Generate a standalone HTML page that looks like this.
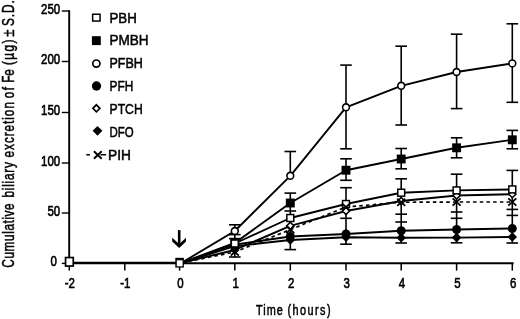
<!DOCTYPE html>
<html lang="en"><head><meta charset="utf-8"><title>Cumulative biliary excretion of Fe</title>
<style>html,body{margin:0;padding:0;background:#fff}body{width:520px;height:319px;overflow:hidden}svg text{white-space:pre}</style>
</head><body>
<svg width="520" height="319" viewBox="0 0 520 319" style="display:block">
<rect width="520" height="319" fill="#fff"/>
<path d="M69.2 10.3V263.2H513.6" fill="none" stroke="#000" stroke-width="1.9" stroke-linejoin="miter"/>
<line x1="61.8" x2="69.2" y1="11" y2="11" stroke="#000" stroke-width="1.4"/>
<line x1="61.8" x2="69.2" y1="61.5" y2="61.5" stroke="#000" stroke-width="1.4"/>
<line x1="61.8" x2="69.2" y1="112.5" y2="112.5" stroke="#000" stroke-width="1.4"/>
<line x1="61.8" x2="69.2" y1="163" y2="163" stroke="#000" stroke-width="1.4"/>
<line x1="61.8" x2="69.2" y1="213" y2="213" stroke="#000" stroke-width="1.4"/>
<line x1="61.8" x2="69.2" y1="263.4" y2="263.4" stroke="#000" stroke-width="1.4"/>
<line x1="69.3" x2="69.3" y1="263.2" y2="270.6" stroke="#000" stroke-width="1.5"/>
<line x1="124.8" x2="124.8" y1="263.2" y2="270.6" stroke="#000" stroke-width="1.5"/>
<line x1="179.6" x2="179.6" y1="263.2" y2="270.6" stroke="#000" stroke-width="1.5"/>
<line x1="234.8" x2="234.8" y1="263.2" y2="270.6" stroke="#000" stroke-width="1.5"/>
<line x1="290.3" x2="290.3" y1="263.2" y2="270.6" stroke="#000" stroke-width="1.5"/>
<line x1="346.0" x2="346.0" y1="263.2" y2="270.6" stroke="#000" stroke-width="1.5"/>
<line x1="401.2" x2="401.2" y1="263.2" y2="270.6" stroke="#000" stroke-width="1.5"/>
<line x1="456.6" x2="456.6" y1="263.2" y2="270.6" stroke="#000" stroke-width="1.5"/>
<line x1="512.3" x2="512.3" y1="263.2" y2="270.6" stroke="#000" stroke-width="1.5"/>
<line x1="69.3" x2="179.6" y1="262.8" y2="262.8" stroke="#000" stroke-width="2.0"/>
<path d="M181.6 262.8L234.8 231.0L290.3 175.8L346.0 107.3L401.2 85.8L456.6 72.0L512.3 63.4" fill="none" stroke="#000" stroke-width="1.9" stroke-linejoin="round"/>
<path d="M181.6 262.8L234.8 243.0L290.3 203.0L346.0 170.2L401.2 159.0L456.6 147.8L512.3 139.8" fill="none" stroke="#000" stroke-width="1.9" stroke-linejoin="round"/>
<path d="M181.6 262.8L234.8 243.5L290.3 218.0L346.0 204.0L401.2 192.7L456.6 190.4L512.3 189.4" fill="none" stroke="#000" stroke-width="1.9" stroke-linejoin="round"/>
<path d="M181.6 262.8L234.8 250.0L290.3 225.8L346.0 211.0L401.2 201.0L456.6 195.5L512.3 194.2" fill="none" stroke="#000" stroke-width="1.9" stroke-linejoin="round"/>
<path d="M181.6 262.8L234.8 244.6L290.3 236.5L346.0 234.0L401.2 230.8L456.6 229.5L512.3 228.5" fill="none" stroke="#000" stroke-width="1.9" stroke-linejoin="round"/>
<path d="M181.6 262.8L234.8 246.2L290.3 240.0L346.0 237.2L401.2 237.7L456.6 237.6L512.3 237.0" fill="none" stroke="#000" stroke-width="1.9" stroke-linejoin="round"/>
<path d="M181.6 262.8L234.8 252.0L290.3 229.6L346.0 207.0L401.2 202.3L456.6 202.0L512.3 202.0" fill="none" stroke="#000" stroke-width="1.7" stroke-dasharray="3.5 3.2"/>
<line x1="234.8" x2="234.8" y1="224.8" y2="257" stroke="#000" stroke-width="1.6"/>
<line x1="229.0" x2="240.60000000000002" y1="224.8" y2="224.8" stroke="#000" stroke-width="1.6"/>
<line x1="229.0" x2="240.60000000000002" y1="234.6" y2="234.6" stroke="#000" stroke-width="1.6"/>
<line x1="229.0" x2="240.60000000000002" y1="238.6" y2="238.6" stroke="#000" stroke-width="1.6"/>
<line x1="229.0" x2="240.60000000000002" y1="257" y2="257" stroke="#000" stroke-width="1.6"/>
<line x1="290.3" x2="290.3" y1="151.5" y2="175.8" stroke="#000" stroke-width="1.6"/>
<line x1="290.3" x2="290.3" y1="193.1" y2="249.6" stroke="#000" stroke-width="1.6"/>
<line x1="284.5" x2="296.1" y1="151.5" y2="151.5" stroke="#000" stroke-width="1.6"/>
<line x1="284.5" x2="296.1" y1="193.1" y2="193.1" stroke="#000" stroke-width="1.6"/>
<line x1="284.5" x2="296.1" y1="211" y2="211" stroke="#000" stroke-width="1.6"/>
<line x1="284.5" x2="296.1" y1="249.6" y2="249.6" stroke="#000" stroke-width="1.6"/>
<line x1="346.0" x2="346.0" y1="65.1" y2="148.8" stroke="#000" stroke-width="1.6"/>
<line x1="346.0" x2="346.0" y1="158.8" y2="180.3" stroke="#000" stroke-width="1.6"/>
<line x1="346.0" x2="346.0" y1="187.7" y2="244.2" stroke="#000" stroke-width="1.6"/>
<line x1="340.2" x2="351.8" y1="65.1" y2="65.1" stroke="#000" stroke-width="1.6"/>
<line x1="340.2" x2="351.8" y1="148.8" y2="148.8" stroke="#000" stroke-width="1.6"/>
<line x1="340.2" x2="351.8" y1="158.8" y2="158.8" stroke="#000" stroke-width="1.6"/>
<line x1="340.2" x2="351.8" y1="180.3" y2="180.3" stroke="#000" stroke-width="1.6"/>
<line x1="340.2" x2="351.8" y1="187.7" y2="187.7" stroke="#000" stroke-width="1.6"/>
<line x1="340.2" x2="351.8" y1="218.3" y2="218.3" stroke="#000" stroke-width="1.6"/>
<line x1="340.2" x2="351.8" y1="244.2" y2="244.2" stroke="#000" stroke-width="1.6"/>
<line x1="401.2" x2="401.2" y1="46.2" y2="125" stroke="#000" stroke-width="1.6"/>
<line x1="401.2" x2="401.2" y1="148.5" y2="168.8" stroke="#000" stroke-width="1.6"/>
<line x1="401.2" x2="401.2" y1="178.8" y2="243" stroke="#000" stroke-width="1.6"/>
<line x1="395.4" x2="407.0" y1="46.2" y2="46.2" stroke="#000" stroke-width="1.6"/>
<line x1="395.4" x2="407.0" y1="125" y2="125" stroke="#000" stroke-width="1.6"/>
<line x1="395.4" x2="407.0" y1="148.5" y2="148.5" stroke="#000" stroke-width="1.6"/>
<line x1="395.4" x2="407.0" y1="168.8" y2="168.8" stroke="#000" stroke-width="1.6"/>
<line x1="395.4" x2="407.0" y1="178.8" y2="178.8" stroke="#000" stroke-width="1.6"/>
<line x1="395.4" x2="407.0" y1="214.2" y2="214.2" stroke="#000" stroke-width="1.6"/>
<line x1="395.4" x2="407.0" y1="222" y2="222" stroke="#000" stroke-width="1.6"/>
<line x1="395.4" x2="407.0" y1="243" y2="243" stroke="#000" stroke-width="1.6"/>
<line x1="456.6" x2="456.6" y1="34.2" y2="108.6" stroke="#000" stroke-width="1.6"/>
<line x1="456.6" x2="456.6" y1="137.8" y2="157.8" stroke="#000" stroke-width="1.6"/>
<line x1="456.6" x2="456.6" y1="174.2" y2="242.8" stroke="#000" stroke-width="1.6"/>
<line x1="450.8" x2="462.40000000000003" y1="34.2" y2="34.2" stroke="#000" stroke-width="1.6"/>
<line x1="450.8" x2="462.40000000000003" y1="108.6" y2="108.6" stroke="#000" stroke-width="1.6"/>
<line x1="450.8" x2="462.40000000000003" y1="137.8" y2="137.8" stroke="#000" stroke-width="1.6"/>
<line x1="450.8" x2="462.40000000000003" y1="157.8" y2="157.8" stroke="#000" stroke-width="1.6"/>
<line x1="450.8" x2="462.40000000000003" y1="174.2" y2="174.2" stroke="#000" stroke-width="1.6"/>
<line x1="450.8" x2="462.40000000000003" y1="212" y2="212" stroke="#000" stroke-width="1.6"/>
<line x1="450.8" x2="462.40000000000003" y1="218.3" y2="218.3" stroke="#000" stroke-width="1.6"/>
<line x1="450.8" x2="462.40000000000003" y1="242.8" y2="242.8" stroke="#000" stroke-width="1.6"/>
<line x1="512.3" x2="512.3" y1="23.8" y2="102.3" stroke="#000" stroke-width="1.6"/>
<line x1="512.3" x2="512.3" y1="130.4" y2="148.8" stroke="#000" stroke-width="1.6"/>
<line x1="512.3" x2="512.3" y1="170.4" y2="243" stroke="#000" stroke-width="1.6"/>
<line x1="506.49999999999994" x2="518.0999999999999" y1="23.8" y2="23.8" stroke="#000" stroke-width="1.6"/>
<line x1="506.49999999999994" x2="518.0999999999999" y1="102.3" y2="102.3" stroke="#000" stroke-width="1.6"/>
<line x1="506.49999999999994" x2="518.0999999999999" y1="130.4" y2="130.4" stroke="#000" stroke-width="1.6"/>
<line x1="506.49999999999994" x2="518.0999999999999" y1="148.8" y2="148.8" stroke="#000" stroke-width="1.6"/>
<line x1="506.49999999999994" x2="518.0999999999999" y1="170.4" y2="170.4" stroke="#000" stroke-width="1.6"/>
<line x1="506.49999999999994" x2="518.0999999999999" y1="209.4" y2="209.4" stroke="#000" stroke-width="1.6"/>
<line x1="506.49999999999994" x2="518.0999999999999" y1="215.4" y2="215.4" stroke="#000" stroke-width="1.6"/>
<line x1="506.49999999999994" x2="518.0999999999999" y1="243" y2="243" stroke="#000" stroke-width="1.6"/>
<path d="M234.80 241.40L239.60 246.20L234.80 251.00L230.00 246.20Z" fill="#000"/>
<path d="M290.30 235.20L295.10 240.00L290.30 244.80L285.50 240.00Z" fill="#000"/>
<path d="M346.00 232.40L350.80 237.20L346.00 242.00L341.20 237.20Z" fill="#000"/>
<path d="M401.20 232.90L406.00 237.70L401.20 242.50L396.40 237.70Z" fill="#000"/>
<path d="M456.60 232.80L461.40 237.60L456.60 242.40L451.80 237.60Z" fill="#000"/>
<path d="M512.30 232.20L517.10 237.00L512.30 241.80L507.50 237.00Z" fill="#000"/>
<circle cx="234.80" cy="244.60" r="4.50" fill="#000"/>
<circle cx="290.30" cy="236.50" r="4.50" fill="#000"/>
<circle cx="346.00" cy="234.00" r="4.50" fill="#000"/>
<circle cx="401.20" cy="230.80" r="4.50" fill="#000"/>
<circle cx="456.60" cy="229.50" r="4.50" fill="#000"/>
<circle cx="512.30" cy="228.50" r="4.50" fill="#000"/>
<rect x="230.35" y="238.55" width="8.90" height="8.90" fill="#000"/>
<rect x="285.85" y="198.55" width="8.90" height="8.90" fill="#000"/>
<rect x="341.55" y="165.75" width="8.90" height="8.90" fill="#000"/>
<rect x="396.75" y="154.55" width="8.90" height="8.90" fill="#000"/>
<rect x="452.15" y="143.35" width="8.90" height="8.90" fill="#000"/>
<rect x="507.85" y="135.35" width="8.90" height="8.90" fill="#000"/>
<circle cx="234.80" cy="231.00" r="3.40" fill="#fff" stroke="#000" stroke-width="1.6"/>
<circle cx="290.30" cy="175.80" r="3.40" fill="#fff" stroke="#000" stroke-width="1.6"/>
<circle cx="346.00" cy="107.30" r="3.40" fill="#fff" stroke="#000" stroke-width="1.6"/>
<circle cx="401.20" cy="85.80" r="3.40" fill="#fff" stroke="#000" stroke-width="1.6"/>
<circle cx="456.60" cy="72.00" r="3.40" fill="#fff" stroke="#000" stroke-width="1.6"/>
<circle cx="512.30" cy="63.40" r="3.40" fill="#fff" stroke="#000" stroke-width="1.6"/>
<path d="M234.80 246.50L238.30 250.00L234.80 253.50L231.30 250.00Z" fill="none" stroke="#000" stroke-width="1.6" stroke-linejoin="miter"/>
<path d="M290.30 222.30L293.80 225.80L290.30 229.30L286.80 225.80Z" fill="#fff" stroke="#000" stroke-width="1.6" stroke-linejoin="miter"/>
<path d="M346.00 207.50L349.50 211.00L346.00 214.50L342.50 211.00Z" fill="#fff" stroke="#000" stroke-width="1.6" stroke-linejoin="miter"/>
<path d="M401.20 197.50L404.70 201.00L401.20 204.50L397.70 201.00Z" fill="#fff" stroke="#000" stroke-width="1.6" stroke-linejoin="miter"/>
<path d="M456.60 192.00L460.10 195.50L456.60 199.00L453.10 195.50Z" fill="#fff" stroke="#000" stroke-width="1.6" stroke-linejoin="miter"/>
<path d="M512.30 190.70L515.80 194.20L512.30 197.70L508.80 194.20Z" fill="#fff" stroke="#000" stroke-width="1.6" stroke-linejoin="miter"/>
<rect x="231.35" y="240.05" width="6.90" height="6.90" fill="#fff" stroke="#000" stroke-width="1.5"/>
<rect x="286.85" y="214.55" width="6.90" height="6.90" fill="#fff" stroke="#000" stroke-width="1.5"/>
<rect x="342.55" y="200.55" width="6.90" height="6.90" fill="#fff" stroke="#000" stroke-width="1.5"/>
<rect x="397.75" y="189.25" width="6.90" height="6.90" fill="#fff" stroke="#000" stroke-width="1.5"/>
<rect x="453.15" y="186.95" width="6.90" height="6.90" fill="#fff" stroke="#000" stroke-width="1.5"/>
<rect x="508.85" y="185.95" width="6.90" height="6.90" fill="#fff" stroke="#000" stroke-width="1.5"/>
<path d="M230.80 248.40L238.80 255.60M238.80 248.40L230.80 255.60" fill="none" stroke="#000" stroke-width="1.8"/>
<path d="M286.30 226.00L294.30 233.20M294.30 226.00L286.30 233.20" fill="none" stroke="#000" stroke-width="1.8"/>
<path d="M342.00 203.40L350.00 210.60M350.00 203.40L342.00 210.60" fill="none" stroke="#000" stroke-width="1.8"/>
<path d="M397.20 198.70L405.20 205.90M405.20 198.70L397.20 205.90" fill="none" stroke="#000" stroke-width="1.8"/>
<path d="M452.60 198.40L460.60 205.60M460.60 198.40L452.60 205.60" fill="none" stroke="#000" stroke-width="1.8"/>
<path d="M508.30 198.40L516.30 205.60M516.30 198.40L508.30 205.60" fill="none" stroke="#000" stroke-width="1.8"/>
<rect x="65.55" y="257.55" width="7.70" height="8.50" fill="#fff" stroke="#000" stroke-width="1.7"/>
<rect x="175.3" y="257.8" width="8.6" height="9.8" fill="#000"/><rect x="176.8" y="260.3" width="5.8" height="6.0" fill="#fff"/>
<path d="M177.9 230.1H180.5V245H177.9Z" fill="#000"/>
<path d="M172.2 237.7L179.2 244.1L186 237.7V241.6L179.2 247.9L172.2 241.6Z" fill="#000"/>
<text transform="translate(60.2 13.5) scale(0.765 1)" font-family="Liberation Sans, Arial, sans-serif" font-size="15" text-anchor="end" fill="#000" stroke="#000" stroke-width="0.65" >250</text>
<text transform="translate(60.2 64.2) scale(0.765 1)" font-family="Liberation Sans, Arial, sans-serif" font-size="15" text-anchor="end" fill="#000" stroke="#000" stroke-width="0.65" >200</text>
<text transform="translate(60.2 115.2) scale(0.765 1)" font-family="Liberation Sans, Arial, sans-serif" font-size="15" text-anchor="end" fill="#000" stroke="#000" stroke-width="0.65" >150</text>
<text transform="translate(60.2 165.7) scale(0.765 1)" font-family="Liberation Sans, Arial, sans-serif" font-size="15" text-anchor="end" fill="#000" stroke="#000" stroke-width="0.65" >100</text>
<text transform="translate(60.2 215.7) scale(0.765 1)" font-family="Liberation Sans, Arial, sans-serif" font-size="15" text-anchor="end" fill="#000" stroke="#000" stroke-width="0.65" >50</text>
<text transform="translate(57.0 266.4) scale(0.765 1)" font-family="Liberation Sans, Arial, sans-serif" font-size="15" text-anchor="end" fill="#000" stroke="#000" stroke-width="0.65" >0</text>
<text transform="translate(69.89999999999999 287.9) scale(0.765 1)" font-family="Liberation Sans, Arial, sans-serif" font-size="15" text-anchor="middle" fill="#000" stroke="#000" stroke-width="0.65" >-2</text>
<text transform="translate(125.39999999999999 287.9) scale(0.765 1)" font-family="Liberation Sans, Arial, sans-serif" font-size="15" text-anchor="middle" fill="#000" stroke="#000" stroke-width="0.65" >-1</text>
<text transform="translate(180.4 287.9) scale(0.765 1)" font-family="Liberation Sans, Arial, sans-serif" font-size="15" text-anchor="middle" fill="#000" stroke="#000" stroke-width="0.65" >0</text>
<text transform="translate(235.60000000000002 287.9) scale(0.765 1)" font-family="Liberation Sans, Arial, sans-serif" font-size="15" text-anchor="middle" fill="#000" stroke="#000" stroke-width="0.65" >1</text>
<text transform="translate(291.1 287.9) scale(0.765 1)" font-family="Liberation Sans, Arial, sans-serif" font-size="15" text-anchor="middle" fill="#000" stroke="#000" stroke-width="0.65" >2</text>
<text transform="translate(346.8 287.9) scale(0.765 1)" font-family="Liberation Sans, Arial, sans-serif" font-size="15" text-anchor="middle" fill="#000" stroke="#000" stroke-width="0.65" >3</text>
<text transform="translate(402.0 287.9) scale(0.765 1)" font-family="Liberation Sans, Arial, sans-serif" font-size="15" text-anchor="middle" fill="#000" stroke="#000" stroke-width="0.65" >4</text>
<text transform="translate(457.40000000000003 287.9) scale(0.765 1)" font-family="Liberation Sans, Arial, sans-serif" font-size="15" text-anchor="middle" fill="#000" stroke="#000" stroke-width="0.65" >5</text>
<text transform="translate(513.0999999999999 287.9) scale(0.765 1)" font-family="Liberation Sans, Arial, sans-serif" font-size="15" text-anchor="middle" fill="#000" stroke="#000" stroke-width="0.65" >6</text>
<g>
<text transform="translate(13.6 267.68) rotate(-90) scale(0.76 1)" font-family="Liberation Sans, Arial, sans-serif" font-size="15.6" text-anchor="start" fill="#000" stroke="#000" stroke-width="0.5" letter-spacing="0.743">Cumulative</text>
<text transform="translate(13.6 197.57) rotate(-90) scale(0.76 1)" font-family="Liberation Sans, Arial, sans-serif" font-size="15.6" text-anchor="start" fill="#000" stroke="#000" stroke-width="0.5" letter-spacing="1.011">biliary</text>
<text transform="translate(13.6 157.48) rotate(-90) scale(0.76 1)" font-family="Liberation Sans, Arial, sans-serif" font-size="15.6" text-anchor="start" fill="#000" stroke="#000" stroke-width="0.5" letter-spacing="1.214">excretion</text>
<text transform="translate(13.6 98.18) rotate(-90) scale(0.76 1)" font-family="Liberation Sans, Arial, sans-serif" font-size="15.6" text-anchor="start" fill="#000" stroke="#000" stroke-width="0.5" letter-spacing="1.855">of</text>
<text transform="translate(13.6 82.85) rotate(-90) scale(0.7463 1)" font-family="Liberation Sans, Arial, sans-serif" font-size="15.6" text-anchor="start" fill="#000" stroke="#000" stroke-width="0.5" letter-spacing="0.000">Fe</text>
<text transform="translate(13.6 64.97) rotate(-90) scale(0.76 1)" font-family="Liberation Sans, Arial, sans-serif" font-size="15.6" text-anchor="start" fill="#000" stroke="#000" stroke-width="0.5" letter-spacing="1.781">(µg)</text>
<text transform="translate(13.6 36.71) rotate(-90) scale(0.85 1)" font-family="Liberation Sans, Arial, sans-serif" font-size="15.6" text-anchor="start" fill="#000" stroke="#000" stroke-width="0.5" letter-spacing="0.000">±</text>
<text transform="translate(13.6 26.08) rotate(-90) scale(0.76 1)" font-family="Liberation Sans, Arial, sans-serif" font-size="15.6" text-anchor="start" fill="#000" stroke="#000" stroke-width="0.5" letter-spacing="1.250">S.D.</text>
</g>
<text transform="translate(256.0 315.4) scale(0.76 1)" font-family="Liberation Sans, Arial, sans-serif" font-size="14.3" text-anchor="start" fill="#000" stroke="#000" stroke-width="0.5" letter-spacing="1.377">Time</text>
<text transform="translate(287.53 315.4) scale(0.76 1)" font-family="Liberation Sans, Arial, sans-serif" font-size="14.3" text-anchor="start" fill="#000" stroke="#000" stroke-width="0.5" letter-spacing="1.897">(hours)</text>
<text transform="translate(109.44399999999999 22.6) scale(0.93 1)" font-family="Liberation Sans, Arial, sans-serif" font-size="14.3" text-anchor="start" fill="#000" stroke="#000" stroke-width="0.5" >PBH</text>
<text transform="translate(109.42299999999999 45.4) scale(0.9475 1)" font-family="Liberation Sans, Arial, sans-serif" font-size="14.3" text-anchor="start" fill="#000" stroke="#000" stroke-width="0.5" >PMBH</text>
<text transform="translate(109.50999999999999 68.1) scale(0.875 1)" font-family="Liberation Sans, Arial, sans-serif" font-size="14.3" text-anchor="start" fill="#000" stroke="#000" stroke-width="0.5" >PFBH</text>
<text transform="translate(109.564 90.8) scale(0.83 1)" font-family="Liberation Sans, Arial, sans-serif" font-size="14.3" text-anchor="start" fill="#000" stroke="#000" stroke-width="0.5" >PFH</text>
<text transform="translate(109.5364 113.8) scale(0.853 1)" font-family="Liberation Sans, Arial, sans-serif" font-size="14.3" text-anchor="start" fill="#000" stroke="#000" stroke-width="0.5" >PTCH</text>
<text transform="translate(109.6 136.5) scale(0.8 1)" font-family="Liberation Sans, Arial, sans-serif" font-size="14.3" text-anchor="start" fill="#000" stroke="#000" stroke-width="0.5" >DFO</text>
<text transform="translate(108.0 159.6) scale(0.96 1)" font-family="Liberation Sans, Arial, sans-serif" font-size="14.3" text-anchor="start" fill="#000" stroke="#000" stroke-width="0.5" >PIH</text>
<rect x="92.65" y="14.25" width="7.40" height="6.80" fill="#fff" stroke="#000" stroke-width="1.5"/>
<rect x="91.90" y="36.20" width="8.90" height="8.90" fill="#000"/>
<circle cx="96.35" cy="63.60" r="3.60" fill="#fff" stroke="#000" stroke-width="1.7"/>
<circle cx="96.50" cy="86.00" r="4.65" fill="#000"/>
<path d="M96.40 104.80L99.90 108.30L96.40 111.80L92.90 108.30Z" fill="#fff" stroke="#000" stroke-width="1.7" stroke-linejoin="miter"/>
<path d="M97.50 125.93L102.38 130.80L97.50 135.68L92.62 130.80Z" fill="#000"/>
<path d="M86.3 154.7H89.9M100.5 154.7H106.1" stroke="#000" stroke-width="1.6" fill="none"/>
<path d="M93.90 151.20L101.70 158.80M101.70 151.20L93.90 158.80" fill="none" stroke="#000" stroke-width="1.9"/>
</svg>
</body></html>
